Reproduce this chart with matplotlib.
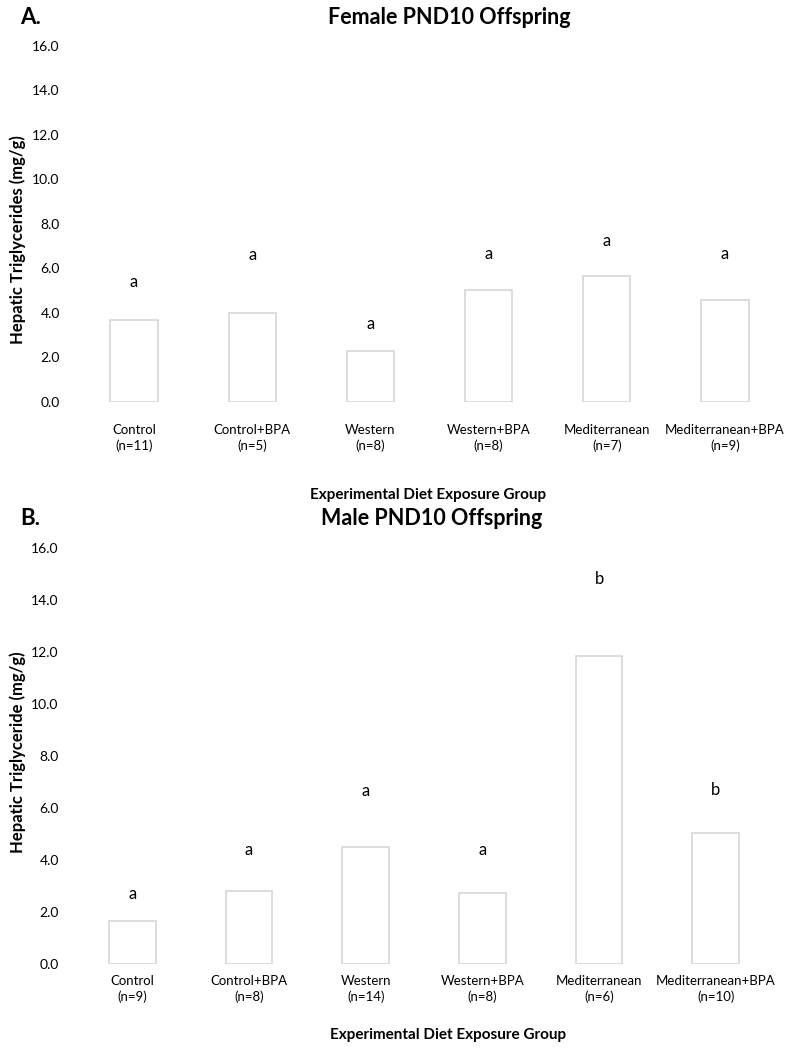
import numpy as np
import matplotlib
matplotlib.use("Agg")
import matplotlib.pyplot as plt

plt.rcParams['font.family'] = ['Lato', 'DejaVu Sans']

groups = ['Control', 'Control+BPA', 'Western', 'Western+BPA', 'Mediterranean', 'Mediterranean+BPA']

# Panel A: female PND10 offspring
female_n = [11, 5, 8, 8, 7, 9]
female_tg = [3.7, 4.0, 2.3, 5.05, 5.65, 4.6]
female_letters = ['a', 'a', 'a', 'a', 'a', 'a']
female_letter_y = [5.4, 6.6, 3.5, 6.65, 7.25, 6.65]

# Panel B: male PND10 offspring
male_n = [9, 8, 14, 8, 6, 10]
male_tg = [1.65, 2.8, 4.5, 2.75, 11.85, 5.05]
male_letters = ['a', 'a', 'a', 'a', 'b', 'b']
male_letter_y = [2.7, 4.4, 6.65, 4.4, 14.8, 6.7]

yticks = [0, 2, 4, 6, 8, 10, 12, 14, 16]

W, H = 785, 1050
fig = plt.figure(figsize=(7.85, 10.5), dpi=100)

def px(x, y):
    return x / W, 1 - y / H

def panel(rect, values, ns, letters, letter_y, tickpad):
    ax = fig.add_axes(rect)
    x = np.arange(len(groups))
    ax.bar(x, values, width=0.4, color='white', edgecolor='#dadada', linewidth=1.3)
    for xi, lab, ly in zip(x, letters, letter_y):
        ax.text(xi, ly, lab, ha='center', va='center', fontsize=12, color='black')
    ax.set_xlim(-0.5, len(groups) - 0.5)
    ax.set_ylim(0, 16)
    ax.set_yticks(yticks)
    ax.set_yticklabels(['%.1f' % v for v in yticks], fontsize=10)
    ax.set_xticks(x)
    ax.set_xticklabels(['%s\n(n=%d)' % (g, n) for g, n in zip(groups, ns)],
                       fontsize=9.5, linespacing=1.3)
    ax.tick_params(axis='both', length=0)
    ax.tick_params(axis='y', pad=11)
    ax.tick_params(axis='x', pad=tickpad)
    for s in ax.spines.values():
        s.set_visible(False)
    return ax

axA = panel([75 / W, 1 - 402 / H, 709 / W, 356 / H], female_tg, female_n,
            female_letters, female_letter_y, 16)
axB = panel([74 / W, 1 - 964 / H, 700 / W, 416 / H], male_tg, male_n,
            male_letters, male_letter_y, 8)

fig.text(*px(20, 17), 'A.', fontsize=16, fontweight='bold', ha='left', va='center')
fig.text(*px(449, 18), 'Female PND10 Offspring', fontsize=15.5, fontweight='bold',
         ha='center', va='center')
fig.text(*px(20, 518), 'B.', fontsize=16, fontweight='bold', ha='left', va='center')
fig.text(*px(432, 518), 'Male PND10 Offspring', fontsize=15.5, fontweight='bold',
         ha='center', va='center')

fig.text(*px(18, 240), 'Hepatic Triglycerides (mg/g)', fontsize=12, fontweight='bold',
         rotation=90, ha='center', va='center')
fig.text(*px(18, 752), 'Hepatic Triglyceride (mg/g)', fontsize=12, fontweight='bold',
         rotation=90, ha='center', va='center')

fig.text(*px(428, 495), 'Experimental Diet Exposure Group', fontsize=11,
         fontweight='bold', ha='center', va='center')
fig.text(*px(448, 1035), 'Experimental Diet Exposure Group', fontsize=11,
         fontweight='bold', ha='center', va='center')

fig.savefig('out.png', dpi=100, facecolor='white')
